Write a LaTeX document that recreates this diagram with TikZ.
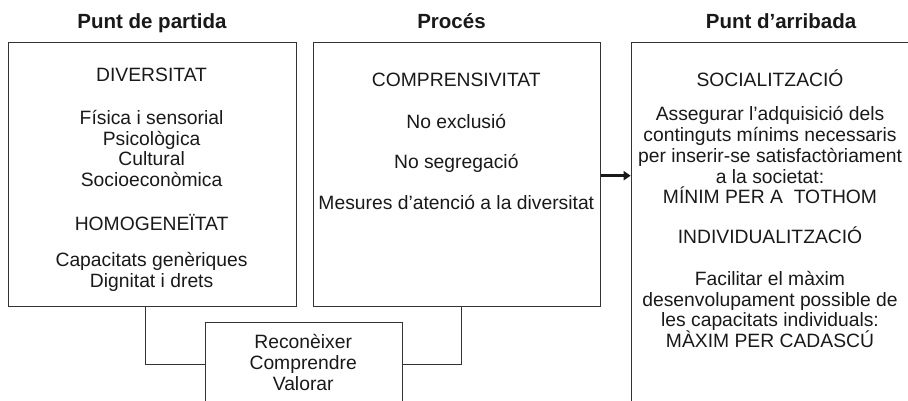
\documentclass[tikz,border=0pt]{standalone}
\usepackage{fontspec}
\setmainfont{Liberation Sans}
\usetikzlibrary{arrows.meta}

\newcommand{\capline}{\rule{0pt}{18pt}}

\tikzset{
  panel/.style={draw=black!80, line width=1pt, anchor=north west, inner sep=0pt},
  txt/.style={anchor=north, align=center, inner sep=0pt, text=black!90, font=\fontsize{19.3}{20.8}\selectfont},
  head/.style={anchor=base, inner sep=0pt, text=black!90, font=\bfseries\fontsize{20.5}{24}\selectfont},
  wire/.style={draw=black!80, line width=1pt},
  flow/.style={draw=black!90, line width=3pt, -{Triangle[length=7pt,width=9pt]}}
}

\begin{document}
\begin{tikzpicture}[x=1pt, y=-1pt]
  \useasboundingbox (0,0) rectangle (908,400);
  \clip (0,0) rectangle (908,400);

  % Headers
  \node[head] (hpartida) at (152,28.5) {Punt de partida};
  \node[head] (hproces) at (451.5,28.5) {Procés};
  \node[head] (harribada) at (781,28.5) {Punt d’arribada};

  % Boxes
  \node[panel, minimum width=288pt, minimum height=264pt] (partida) at (7.7,41.7) {};
  \node[panel, minimum width=287.3pt, minimum height=264pt] (proces) at (312.7,41.7) {};
  \node[panel, minimum width=300pt, minimum height=420pt] (arribada) at (630.7,41.7) {};
  \node[panel, minimum width=197pt, minimum height=120pt] (accions) at (204.7,321.7) {};

  % Punt de partida
  \node[txt] (diversitat) at (151.6,63.7) {\capline DIVERSITAT};
  \node[txt] (tipus) at (151.6,106) {\capline Física i sensorial\\Psicològica\\Cultural\\Socioeconòmica};
  \node[txt] (homogeneitat) at (151.6,212) {\capline HOMOGENEÏTAT};
  \node[txt] (comuns) at (151.6,248.7) {\capline Capacitats genèriques\\Dignitat i drets};

  % Proces
  \node[txt] (comprensivitat) at (456.3,68.7) {\capline COMPRENSIVITAT};
  \node[txt] (exclusio) at (456.3,110.3) {\capline No exclusió};
  \node[txt] (segregacio) at (456.3,150.7) {\capline No segregació};
  \node[txt] (mesures) at (456.3,191.3) {\capline Mesures d’atenció a la diversitat};

  % Punt d'arribada
  \node[txt] (socialitzacio) at (770,68.7) {\capline SOCIALITZACIÓ};
  \node[txt] (minim) at (770,102.5) {\capline Assegurar l’adquisició dels\\continguts mínims necessaris\\per inserir-se satisfactòriament\\a la societat:\\MÍNIM PER A\ \ TOTHOM};
  \node[txt] (individualitzacio) at (770,225.3) {\capline INDIVIDUALITZACIÓ};
  \node[txt] (maxim) at (770,267) {\capline Facilitar el màxim\\desenvolupament possible de\\les capacitats individuals:\\MÀXIM PER CADASCÚ};

  % Accions
  \node[txt] (verbs) at (303.2,330.3) {\capline Reconèixer\\Comprendre\\Valorar};

  % Connectors
  \coordinate (jl) at (145,364.7);
  \coordinate (jr) at (461.3,364.7);
  \coordinate (mid) at (615,175.7);
  \draw[wire] (partida.south -| jl) |- (accions.west |- jl);
  \draw[wire] (proces.south -| jr) |- (accions.east |- jr);
  \draw[flow] (proces.east |- mid) -- (arribada.west |- mid);
\end{tikzpicture}
\end{document}
